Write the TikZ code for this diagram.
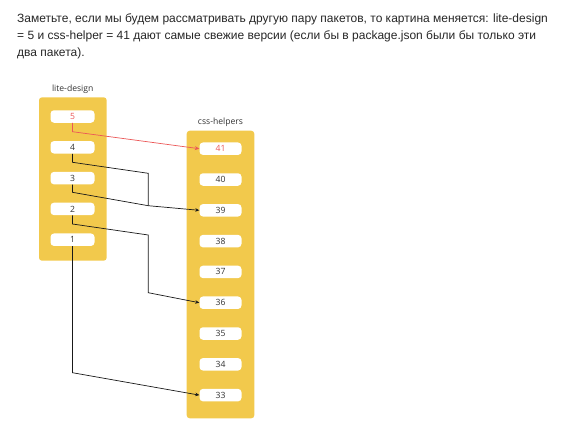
\documentclass[tikz,border=0pt]{standalone}
\usepackage{fontspec}
\setmainfont{Liberation Sans}
\newfontfamily\diafont{Open Sans}
\usetikzlibrary{arrows.meta}
\definecolor{ybg}{HTML}{F2C94C}
\definecolor{rline}{HTML}{EB5757}
\definecolor{txt}{HTML}{333333}
\tikzset{
  container/.style={fill=ybg, draw=none, rounded corners=3pt},
  ver/.style={fill=white, draw=none, rounded corners=3.5pt, minimum height=12.5pt, inner sep=0pt, font=\diafont\fontsize{8.6}{9}\selectfont, text=txt},
  lver/.style={ver, minimum width=44pt},
  rver/.style={ver, minimum width=42pt},
  title/.style={font=\diafont\fontsize{8.6}{9}\selectfont, text=txt},
  para/.style={anchor=base west, inner sep=0pt, font=\fontsize{12}{14}\selectfont, text=black!85},
  link/.style={draw=black!90, line width=0.7pt, -{Stealth[length=4pt,width=3.5pt]}},
  redlink/.style={link, draw=rline, -{Stealth[length=4.5pt,width=4pt,fill=rline]}}
}
\begin{document}
\begin{tikzpicture}[x=1pt,y=-1pt]
\useasboundingbox (0,0) rectangle (572,440);
\node[para] (p1) at (17,22.7) {Заметьте, если мы будем рассматривать другую пару пакетов, то картина меняется: lite-design};
\node[para] (p2) at (17,39.7) {= 5 и css-helper = 41 дают самые свежие версии (если бы в package.json были бы только эти};
\node[para] (p3) at (17,56.7) {два пакета).};
% containers
\path[container] (39,97.3) rectangle (106.7,260.7);
\path[container] (186.7,130.7) rectangle (254.3,418.3);
\node[title] (tl) at (72.7,89) {lite-design};
\node[title] (tr) at (220.5,122.5) {css-helpers};
% left versions
\node[lver, text=rline] (l5) at (72.5,116.5) {5};
\node[lver] (l4) at (72.5,147.3) {4};
\node[lver] (l3) at (72.5,178.1) {3};
\node[lver] (l2) at (72.5,208.9) {2};
\node[lver] (l1) at (72.5,239.7) {1};
% right versions
\node[rver, text=rline] (r41) at (220.5,148.7) {41};
\node[rver] (r40) at (220.5,179.5) {40};
\node[rver] (r39) at (220.5,210.3) {39};
\node[rver] (r38) at (220.5,241.1) {38};
\node[rver] (r37) at (220.5,271.9) {37};
\node[rver] (r36) at (220.5,302.7) {36};
\node[rver] (r35) at (220.5,333.5) {35};
\node[rver] (r34) at (220.5,364.3) {34};
\node[rver] (r33) at (220.5,395.1) {33};
% links
\coordinate (k5) at (72.5,131.7);
\coordinate (k4) at (72.5,162.3);
\coordinate (m4) at (148.3,173.3);
\coordinate (m39) at (148.3,205.7);
\coordinate (k3) at (72.5,192.3);
\coordinate (k2) at (72.5,224);
\coordinate (m2) at (148.3,235);
\coordinate (m36) at (148.3,292.7);
\coordinate (k1) at (72.5,372.7);
\draw[redlink] (l5.south) -- (k5) -- (r41.west);
\draw[link, -] (l4.south) -- (k4) -- (m4) -- (m39);
\draw[link] (l3.south) -- (k3) -- (m39) -- (r39.west);
\draw[link] (l2.south) -- (k2) -- (m2) -- (m36) -- (r36.west);
\draw[link] (l1.south) -- (k1) -- (r33.west);
\end{tikzpicture}
\end{document}
